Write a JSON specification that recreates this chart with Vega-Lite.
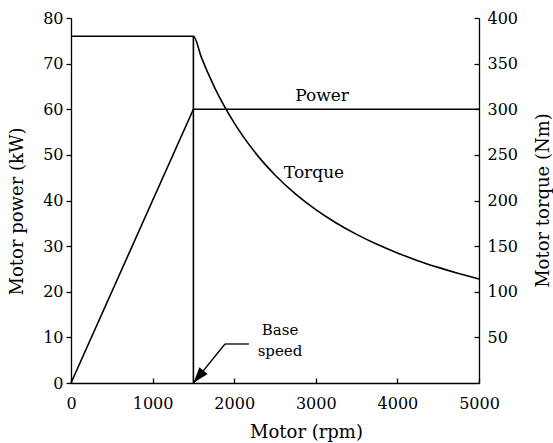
{
  "$schema": "https://vega.github.io/schema/vega-lite/v6.json",
  "width": 408,
  "height": 365,
  "autosize": {"type": "none"},
  "padding": {"left": 71, "top": 18, "right": 74, "bottom": 60},
  "background": "white",
  "config": {
    "view": {"stroke": null},
    "axis": {
      "grid": false,
      "domainColor": "black",
      "domainWidth": 1.3,
      "tickColor": "black",
      "tickWidth": 1.3,
      "labelColor": "black",
      "labelFont": "DejaVu Serif",
      "labelFontSize": 16,
      "labelFlush": false,
      "titleColor": "black",
      "titleFont": "DejaVu Serif",
      "titleFontSize": 18,
      "titleFontWeight": "normal"
    }
  },
  "datasets": {
    "power": [
      {"rpm": 0, "kw": 0},
      {"rpm": 1500, "kw": 60},
      {"rpm": 5000, "kw": 60}
    ],
    "torque": [
      {"rpm": 0, "nm": 380},
      {"rpm": 1500, "nm": 380},
      {"rpm": 1600, "nm": 356.3},
      {"rpm": 1750, "nm": 325.7},
      {"rpm": 2000, "nm": 285},
      {"rpm": 2250, "nm": 253.3},
      {"rpm": 2500, "nm": 228},
      {"rpm": 2750, "nm": 207.3},
      {"rpm": 3000, "nm": 190},
      {"rpm": 3250, "nm": 175.4},
      {"rpm": 3500, "nm": 162.9},
      {"rpm": 3750, "nm": 152},
      {"rpm": 4000, "nm": 142.5},
      {"rpm": 4250, "nm": 134.1},
      {"rpm": 4500, "nm": 126.7},
      {"rpm": 4750, "nm": 120},
      {"rpm": 5000, "nm": 114}
    ],
    "base": [{"rpm": 1500, "nm": 0, "nm2": 380}],
    "arrowSegs": [
      {"rpm": 1500, "kw": 0, "rpm2": 1887, "kw2": 8.55},
      {"rpm": 1887, "kw": 8.55, "rpm2": 2181, "kw2": 8.55}
    ],
    "arrowHead": [{"rpm": 1500, "kw": 0}],
    "curveLabels": [
      {"rpm": 3076, "kw": 61.8, "text": "Power"},
      {"rpm": 2978, "kw": 44.9, "text": "Torque"}
    ],
    "baseLabels": [
      {"rpm": 2561, "kw": 10.5, "text": "Base"},
      {"rpm": 2561, "kw": 6.0, "text": "speed"}
    ]
  },
  "layer": [
    {
      "layer": [
        {
          "data": {"name": "power"},
          "mark": {"type": "line", "color": "black", "strokeWidth": 1.6},
          "encoding": {
            "x": {
              "field": "rpm", "type": "quantitative",
              "scale": {"domain": [0, 5000], "nice": false},
              "axis": {
                "orient": "bottom",
                "values": [0, 1000, 2000, 3000, 4000, 5000],
                "format": "d",
                "tickSize": -5,
                "labelPadding": 17,
                "labelFlush": false,
                "title": "Motor (rpm)",
                "titleFontWeight": "normal",
                "titleX": 235,
                "titleY": 54,
                "titleAlign": "center",
                "titleBaseline": "alphabetic"
              }
            },
            "y": {
              "field": "kw", "type": "quantitative",
              "scale": {"domain": [0, 80], "nice": false},
              "axis": {
                "orient": "left",
                "values": [0, 10, 20, 30, 40, 50, 60, 70, 80],
                "tickSize": 5,
                "labelPadding": 3,
                "labelFlush": false,
                "title": "Motor power (kW)",
                "titleFontWeight": "normal",
                "titleX": -54,
                "titleY": 193,
                "titleAngle": 270,
                "titleAlign": "center",
                "titleBaseline": "middle"
              }
            }
          }
        },
        {
          "data": {"name": "arrowSegs"},
          "mark": {"type": "rule", "color": "black", "strokeWidth": 1.3},
          "encoding": {
            "x": {"field": "rpm", "type": "quantitative"},
            "x2": {"field": "rpm2"},
            "y": {"field": "kw", "type": "quantitative"},
            "y2": {"field": "kw2"}
          }
        },
        {
          "data": {"name": "arrowHead"},
          "mark": {"type": "point", "shape": "M0,0L-0.33,-1L0.33,-1Z", "filled": true, "color": "black", "opacity": 1, "size": 1024, "angle": 39},
          "encoding": {
            "x": {"field": "rpm", "type": "quantitative"},
            "y": {"field": "kw", "type": "quantitative"}
          }
        },
        {
          "data": {"name": "curveLabels"},
          "mark": {"type": "text", "font": "DejaVu Serif", "fontSize": 17, "align": "center", "baseline": "alphabetic", "color": "black"},
          "encoding": {
            "x": {"field": "rpm", "type": "quantitative"},
            "y": {"field": "kw", "type": "quantitative"},
            "text": {"field": "text"}
          }
        },
        {
          "data": {"name": "baseLabels"},
          "mark": {"type": "text", "font": "DejaVu Serif", "fontSize": 15, "align": "center", "baseline": "alphabetic", "color": "black"},
          "encoding": {
            "x": {"field": "rpm", "type": "quantitative"},
            "y": {"field": "kw", "type": "quantitative"},
            "text": {"field": "text"}
          }
        }
      ]
    },
    {
      "layer": [
        {
          "data": {"name": "torque"},
          "mark": {"type": "line", "color": "black", "strokeWidth": 1.6, "interpolate": "monotone"},
          "encoding": {
            "x": {"field": "rpm", "type": "quantitative"},
            "y": {
              "field": "nm", "type": "quantitative",
              "scale": {"domain": [0, 400], "nice": false},
              "axis": {
                "orient": "right",
                "values": [50, 100, 150, 200, 250, 300, 350, 400],
                "tickSize": -5,
                "labelPadding": 13,
                "labelFlush": false,
                "title": "Motor torque (Nm)",
                "titleFontWeight": "normal",
                "titleX": 64,
                "titleY": 182,
                "titleAngle": 270,
                "titleAlign": "center",
                "titleBaseline": "middle"
              }
            }
          }
        },
        {
          "data": {"name": "base"},
          "mark": {"type": "rule", "color": "black", "strokeWidth": 1.6},
          "encoding": {
            "x": {"field": "rpm", "type": "quantitative"},
            "y": {"field": "nm", "type": "quantitative"},
            "y2": {"field": "nm2"}
          }
        }
      ]
    }
  ],
  "resolve": {"scale": {"y": "independent"}}
}
